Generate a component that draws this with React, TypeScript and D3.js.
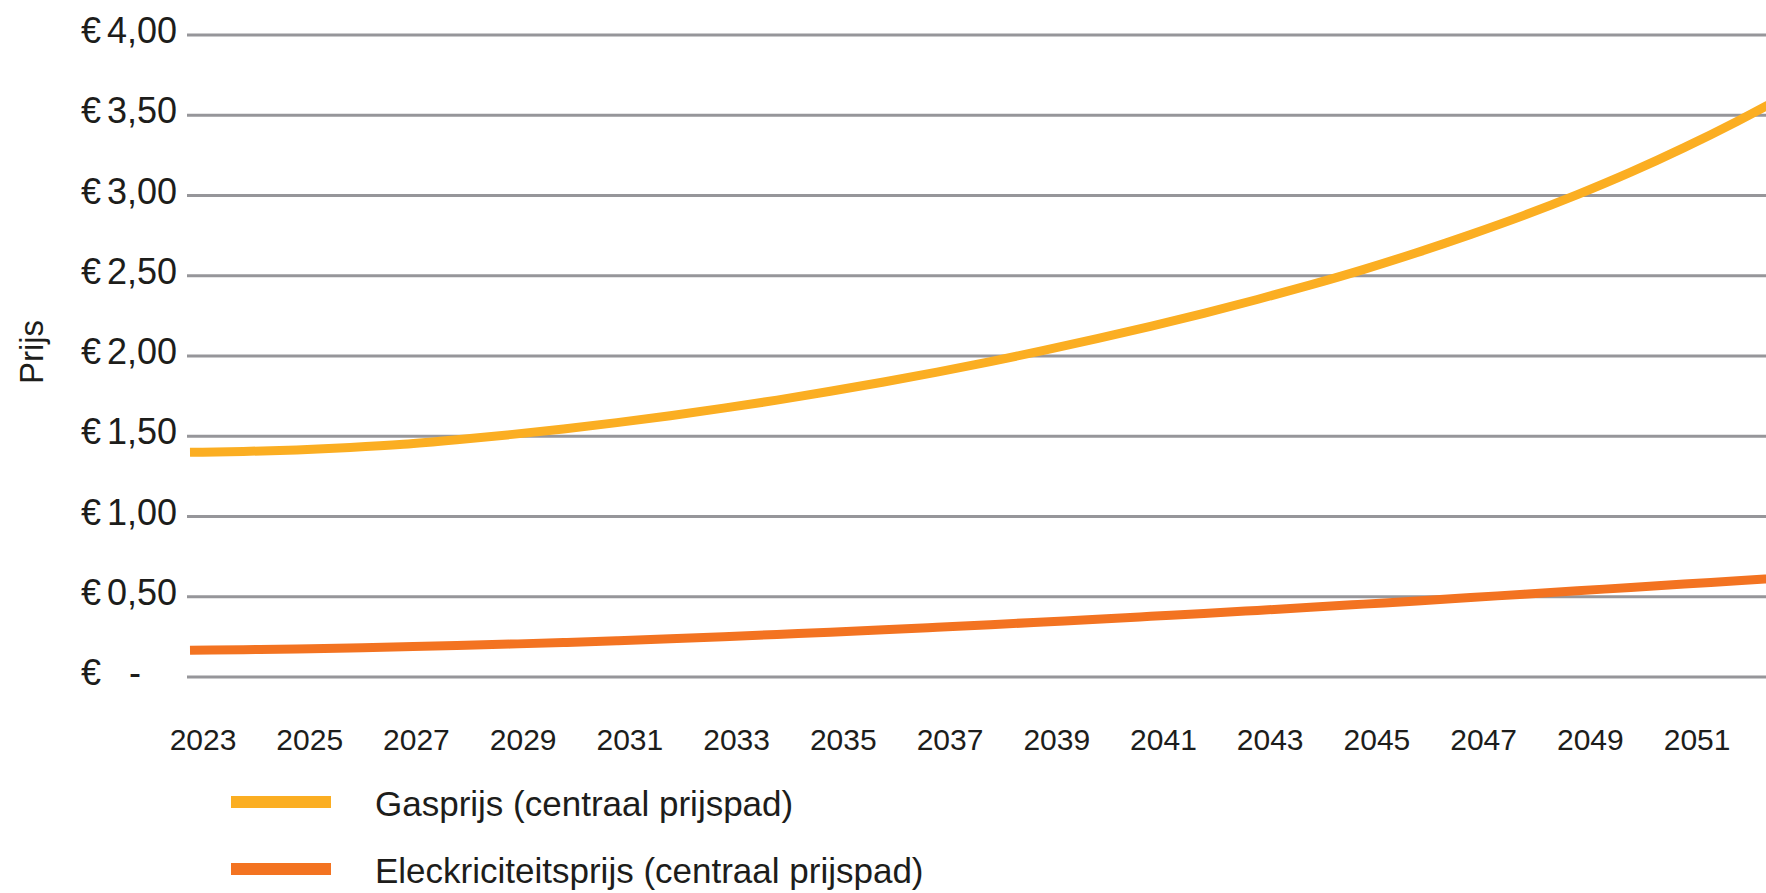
import React from "react";
import * as d3 from "d3";

// years on the x axis (data runs past the visible right edge)
const years = [
  2023, 2024, 2025, 2026, 2027, 2028, 2029, 2030, 2031, 2032, 2033, 2034, 2035,
  2036, 2037, 2038, 2039, 2040, 2041, 2042, 2043, 2044, 2045, 2046, 2047, 2048,
  2049, 2050, 2051, 2052, 2053,
];

// Gasprijs (centraal prijspad), euro
const gasPrice = [
  1.4, 1.405, 1.415, 1.43, 1.45, 1.478, 1.51, 1.545, 1.585, 1.628, 1.675, 1.725,
  1.78, 1.838, 1.9, 1.965, 2.035, 2.108, 2.185, 2.266, 2.352, 2.443, 2.54, 2.645,
  2.757, 2.876, 3.005, 3.145, 3.298, 3.463, 3.64,
];

// Eleckriciteitsprijs (centraal prijspad), euro
const electricityPrice = [
  0.166, 0.17, 0.175, 0.181, 0.188, 0.196, 0.205, 0.215, 0.226, 0.238, 0.251,
  0.265, 0.279, 0.294, 0.31, 0.326, 0.343, 0.36, 0.378, 0.396, 0.415, 0.434,
  0.454, 0.474, 0.495, 0.516, 0.537, 0.558, 0.579, 0.6, 0.621,
];

const xTickYears = [
  2023, 2025, 2027, 2029, 2031, 2033, 2035, 2037, 2039, 2041, 2043, 2045, 2047,
  2049, 2051,
];
const yTicks = [0, 0.5, 1, 1.5, 2, 2.5, 3, 3.5, 4];
const yTickLabels = ["-", "0,50", "1,00", "1,50", "2,00", "2,50", "3,00", "3,50", "4,00"];

const seriesNames = ["Gasprijs (centraal prijspad)", "Eleckriciteitsprijs (centraal prijspad)"];
const seriesColors = ["#fbae22", "#f37321"];

const WIDTH = 1766;
const HEIGHT = 893;
const FONT = "'Liberation Sans', Arial, sans-serif";
const TEXT = "#1d1d1b";

function App(): JSX.Element {
  const x = d3.scaleLinear().domain([2023, 2053]).range([190, 190 + 30 * 53.36]);
  const y = d3.scaleLinear().domain([0, 4]).range([677, 35]);
  const gridLeft = 187;

  const line = d3
    .line<number>()
    .x((_, i) => x(years[i]))
    .y((d) => y(d))
    .curve(d3.curveMonotoneX);

  const series = [gasPrice, electricityPrice];

  return (
    <svg
      width={WIDTH}
      height={HEIGHT}
      style={{ position: "absolute", left: 0, top: 0, background: "#fff", overflow: "hidden" }}
      fontFamily={FONT}
    >
      {/* gridlines + y labels */}
      {yTicks.map((t, i) => (
        <g key={t}>
          <line
            x1={gridLeft}
            x2={WIDTH}
            y1={y(t)}
            y2={y(t)}
            stroke="#96969a"
            strokeWidth={3}
          />
          <text x={81} y={y(t) + 8} fontSize={36} fill={TEXT}>
            €
          </text>
          <text x={t === 0 ? 129 : 107} y={y(t) + 8} fontSize={36} fill={TEXT}>
            {yTickLabels[i]}
          </text>
        </g>
      ))}

      <text
        transform="translate(43,352) rotate(-90)"
        textAnchor="middle"
        fontSize={33}
        fill={TEXT}
      >
        Prijs
      </text>

      {/* x labels */}
      {xTickYears.map((yr) => (
        <text
          key={yr}
          x={x(yr) + 13}
          y={750}
          textAnchor="middle"
          fontSize={30}
          fill={TEXT}
        >
          {yr}
        </text>
      ))}

      {/* lines */}
      {series.map((s, i) => (
        <path
          key={seriesNames[i]}
          d={line(s) || ""}
          fill="none"
          stroke={seriesColors[i]}
          strokeWidth={9}
        />
      ))}

      {/* legend */}
      {seriesNames.map((name, i) => (
        <g key={name} transform={`translate(0,${i * 67})`}>
          <rect x={231} y={796} width={100} height={12} fill={seriesColors[i]} />
          <text x={375} y={816} fontSize={35} fill={TEXT}>
            {name}
          </text>
        </g>
      ))}
    </svg>
  );
}

export default App;
